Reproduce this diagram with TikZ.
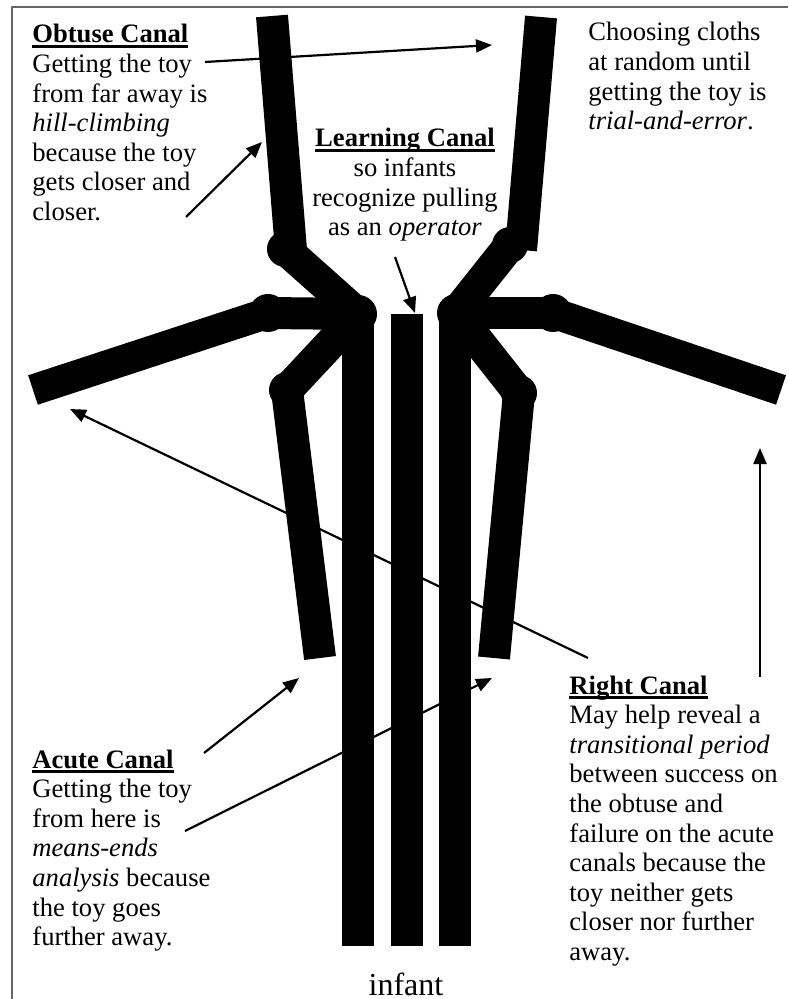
\documentclass[tikz,border=0pt]{standalone}
\usepackage{fontspec}
\setmainfont{Liberation Serif}
\usetikzlibrary{arrows.meta}

% Bold heading with a Word-style underline at a fixed depth.
\newcommand\canalhead[1]{\setbox0\hbox{\bfseries #1}\rlap{\rule[-2.3pt]{\wd0}{1.1pt}}\box0}

\begin{document}
\begin{tikzpicture}[x=0.5pt,y=-0.5pt,line join=round,
  limb/.style={line width=16pt},
  note/.style={inner sep=0pt,align=left,font=\fontsize{13.3}{14.8}\selectfont},
  pointer/.style={line width=1.1pt,-{Triangle[length=8pt,width=6.5pt]}}]
  % Match the original page frame.
  \useasboundingbox (0,0) rectangle (788,999);

  % Only the left and top edges of the scanned frame show.
  \draw[black!60,line width=0.6pt] (12,999) -- (12,7) -- (788,7);

  % Hubs at the tops of the outer strings.
  \coordinate (hubL) at (358,314);
  \coordinate (hubR) at (456,313);

  % Elbows of the canals, left then right.
  \coordinate (obtL) at (285,249);
  \coordinate (horL) at (268,313);
  \coordinate (acuL) at (287,390);
  \coordinate (obtR) at (510,245);
  \coordinate (horR) at (553,313);
  \coordinate (acuR) at (519,393);

  % Free ends of the canals.
  \coordinate (obtLtop) at (272,16);
  \coordinate (obtLbot) at (291,250);
  \coordinate (obtRtop) at (541,17);
  \coordinate (obtRbot) at (521,250);
  \coordinate (horLend) at (33,390);
  \coordinate (horRend) at (781,390);
  \coordinate (acuLend) at (320,658);
  \coordinate (acuRend) at (494,658);

  % The three strings held by the infant.
  \fill[black] (342,314) rectangle (374,946);
  \fill[black] (391,314) rectangle (423,946);
  \fill[black] (439,314) rectangle (471,946);

  % Canal arms, drawn before the joints so the joints sit on top.
  \draw[limb] (obtLtop) -- (obtLbot);
  \draw[limb] (obtL) -- (hubL);
  \draw[limb] (horL) -- (hubL);
  \draw[limb] (acuL) -- (hubL);
  \draw[limb,line width=15.5pt] (horL) -- (horLend);
  \draw[limb] (acuL) -- (acuLend);
  \draw[limb] (obtRtop) -- (obtRbot);
  \draw[limb] (obtR) -- (hubR);
  \draw[limb] (horR) -- (hubR);
  \draw[limb] (acuR) -- (hubR);
  \draw[limb,line width=15.5pt] (horR) -- (horRend);
  \draw[limb] (acuR) -- (acuRend);

  % Round joints.
  \fill[black] (hubL) circle[radius=9.5pt];
  \fill[black] (hubR) circle[radius=9.5pt];
  \fill[black] (obtL) circle[radius=9pt];
  \fill[black] (horL) circle[radius=9.5pt];
  \fill[black] (acuL) circle[radius=9pt];
  \fill[black] (obtR) circle[radius=9pt];
  \fill[black] (horR) circle[radius=9.5pt];
  \fill[black] (acuR) circle[radius=9pt];

  % Notes, anchored at the baseline of their last line.
  \node[note,anchor=base west] (obtuse) at (32,220.6)
    {\canalhead{Obtuse Canal}\\Getting the toy\\from far away is\\\textit{hill-climbing}\\because the toy\\gets closer and\\closer.};
  \node[note,anchor=base west] (trial) at (588,129.8)
    {Choosing cloths\\at random until\\getting the toy is\\\textit{trial-and-error}.};
  \node[note,align=center,anchor=base] (learning) at (405,235.8)
    {\canalhead{Learning Canal}\\so infants\\recognize pulling\\as an \textit{operator}};
  \node[note,anchor=base west] (acute) at (32,945.6)
    {\canalhead{Acute Canal}\\Getting the toy\\from here is\\\textit{means-ends}\\\textit{analysis} because\\the toy goes\\further away.};
  \node[note,anchor=base west] (right) at (569,960.4)
    {\canalhead{Right Canal}\\May help reveal a\\\textit{transitional period}\\between success on\\the obtuse and\\failure on the acute\\canals because the\\toy neither gets\\closer nor further\\away.};
  \node[inner sep=0pt,anchor=base,font=\fontsize{16}{19}\selectfont] (infant) at (406,995) {infant};

  % Pointer ends.
  \coordinate (trialTail) at (205,62);
  \coordinate (trialTip) at (492,45);
  \coordinate (obtTail) at (186,217);
  \coordinate (obtTip) at (262,142);
  \coordinate (learnTail) at (395,257);
  \coordinate (learnTip) at (415,313);
  \coordinate (rightTail) at (588,658);
  \coordinate (rightTipL) at (70,409);
  \coordinate (rightTailR) at (760,677);
  \coordinate (rightTipR) at (760,448);
  \coordinate (acuTail) at (204,753);
  \coordinate (acuTipL) at (299,678);
  \coordinate (meansTail) at (185,831);
  \coordinate (acuTipR) at (492,678);

  \draw[pointer] (trialTail) -- (trialTip);
  \draw[pointer] (obtTail) -- (obtTip);
  \draw[pointer] (learnTail) -- (learnTip);
  \draw[pointer] (rightTail) -- (rightTipL);
  \draw[pointer] (rightTailR) -- (rightTipR);
  \draw[pointer] (acuTail) -- (acuTipL);
  \draw[pointer] (meansTail) -- (acuTipR);
\end{tikzpicture}
\end{document}
